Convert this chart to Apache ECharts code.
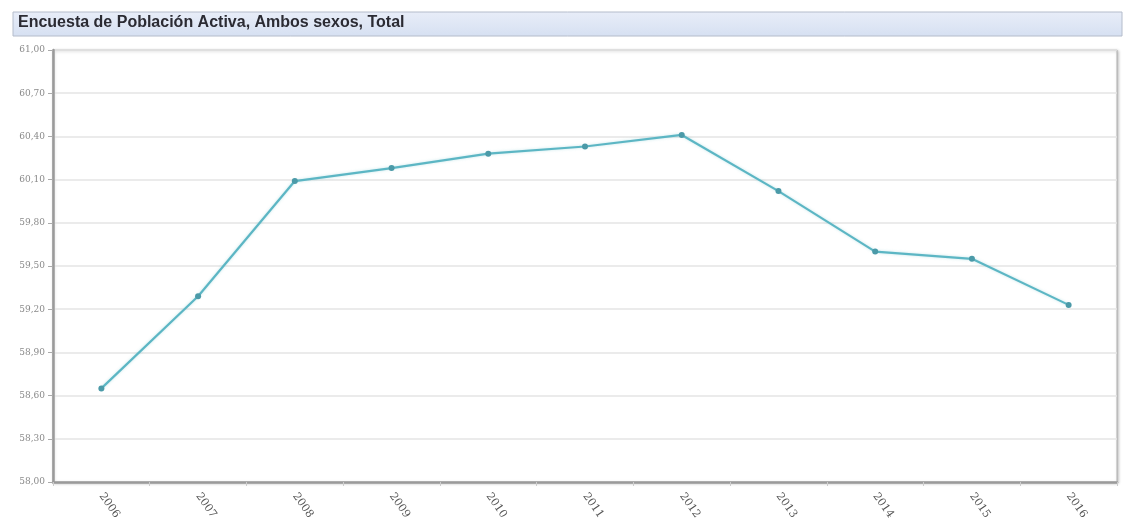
<!DOCTYPE html>
<html>
<head>
<meta charset="utf-8">
<script src="https://cdn.jsdelivr.net/npm/echarts@6/dist/echarts.min.js"></script>
<style>
    html, body { margin: 0; padding: 0; background: #fff; }
    #chart { width: 1128px; height: 527px; }
</style>
</head>
<body>
<div id="chart"></div>
<script>
const titleText = "Encuesta de Población Activa, Ambos sexos, Total"
const years = ["2006", "2007", "2008", "2009", "2010", "2011", "2012", "2013", "2014", "2015", "2016"]
const tasa = [58.65, 59.29, 60.09, 60.18, 60.28, 60.33, 60.41, 60.02, 59.60, 59.55, 59.23]
const yMin = 58
const yMax = 61
const yStep = 0.3

const chart = echarts.init(document.getElementById("chart"))

const option = {
    backgroundColor: "#fff",
    animation: false,
    graphic: [
        {
            type: "rect",
            shape: { x: 13, y: 12, width: 1109, height: 24 },
            style: {
                fill: new echarts.graphic.LinearGradient(0, 0, 0, 1, [
                    { offset: 0, color: "#e8edf8" },
                    { offset: 1, color: "#d6e0f2" }
                ]),
                stroke: "#b4bccb",
                lineWidth: 1
            }
        },
        {
            type: "text",
            left: 18,
            top: 15,
            style: {
                text: titleText,
                font: "bold 16px 'Liberation Sans', Arial, sans-serif",
                fill: "#2b2b33"
            }
        }
    ],
    grid: {
        left: 53,
        right: 11,
        top: 50,
        bottom: 45,
        show: true,
        borderColor: "#b0b0b0",
        borderWidth: 1,
        shadowColor: "rgba(0,0,0,0.25)",
        shadowBlur: 3,
        shadowOffsetX: 1,
        shadowOffsetY: 1,
        backgroundColor: "#fff"
    },
    xAxis: {
        type: "category",
        data: years,
        boundaryGap: true,
        axisLine: {
            show: true,
            lineStyle: { color: "#9a9a9a", width: 2.5 }
        },
        axisTick: {
            show: true,
            length: 4,
            lineStyle: { color: "#cccccc" }
        },
        axisLabel: {
            rotate: -55,
            margin: 12,
            color: "#555",
            fontSize: 11,
            fontFamily: "DejaVu Serif"
        },
        splitLine: { show: false }
    },
    yAxis: {
        type: "value",
        min: yMin,
        max: yMax,
        interval: yStep,
        axisLine: {
            show: true,
            lineStyle: { color: "#9a9a9a", width: 2.5 }
        },
        axisTick: {
            show: true,
            length: 5,
            lineStyle: { color: "#aaaaaa" }
        },
        axisLabel: {
            margin: 8,
            color: "#8a8a8a",
            fontSize: 9,
            fontFamily: "DejaVu Serif",
            formatter: v => v.toFixed(2).replace(".", ",")
        },
        splitLine: {
            show: true,
            lineStyle: { color: "#e4e4e4", width: 1.5 }
        }
    },
    series: [
        {
            type: "line",
            data: tasa,
            symbol: "circle",
            symbolSize: 6,
            showSymbol: true,
            lineStyle: {
                color: "#5cb6c4",
                width: 2.2,
                shadowColor: "rgba(92,182,196,0.35)",
                shadowBlur: 3
            },
            itemStyle: { color: "#4b9aa8" }
        }
    ]
}

chart.setOption(option)
</script>
</body>
</html>
